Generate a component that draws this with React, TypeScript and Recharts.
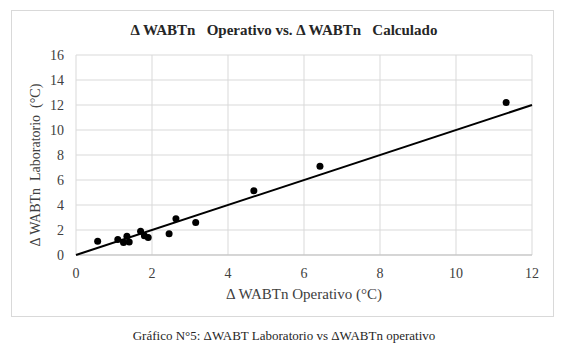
import { CartesianGrid, Scatter, ScatterChart, XAxis, YAxis } from "recharts"

// Measured points: ΔWABTn operativo (x) vs ΔWABTn laboratorio (y)
const operativo = [0.57, 1.1, 1.25, 1.34, 1.4, 1.7, 1.8, 1.9, 2.45, 2.63, 3.15, 4.68, 6.42, 11.32]
const laboratorio = [1.1, 1.25, 1.0, 1.5, 1.05, 1.9, 1.55, 1.4, 1.7, 2.9, 2.6, 5.15, 7.1, 12.2]

// Reference line y = x
const lineX = [0, 12]
const lineY = [0, 12]

const xTicks = [0, 2, 4, 6, 8, 10, 12]
const yTicks = [0, 2, 4, 6, 8, 10, 12, 14, 16]

const points = operativo.map((x, i) => ({ x, y: laboratorio[i] }))
const fitLine = lineX.map((x, i) => ({ x, y: lineY[i] }))

const serif = '"Liberation Serif", "DejaVu Serif", serif'
const textColor = "#404040"

const Dot = (props: any) => <circle cx={props.cx} cy={props.cy} r={3.5} fill="#000" />

export default function App() {
  return (
    <div style={{ position: "absolute", left: 0, top: 0, width: 568, height: 360, background: "#fff", fontFamily: serif }}>
      <div
        style={{
          position: "absolute",
          left: 11,
          top: 10,
          width: 543,
          height: 307,
          border: "1px solid #d9d9d9",
          boxSizing: "border-box",
        }}
      />
      <div
        style={{
          position: "absolute",
          left: 0,
          top: 21,
          width: 568,
          textAlign: "center",
          fontSize: 15,
          lineHeight: "18px",
          fontWeight: "bold",
          color: "#262626",
          whiteSpace: "pre",
        }}
      >
        {"Δ WABTn   Operativo vs. Δ WABTn   Calculado"}
      </div>
      <div style={{ position: "absolute", left: 0, top: 0 }}>
        <ScatterChart width={568} height={360} margin={{ top: 55, right: 36, bottom: 75, left: 46 }}>
          <CartesianGrid stroke="#d9d9d9" strokeWidth={1} />
          <XAxis
            type="number"
            dataKey="x"
            domain={[0, 12]}
            ticks={xTicks}
            tickLine={false}
            axisLine={{ stroke: "#bfbfbf" }}
            height={30}
            tick={{ fontSize: 14, fill: textColor, fontFamily: serif }}
            tickMargin={7}
          />
          <YAxis
            type="number"
            dataKey="y"
            domain={[0, 16]}
            ticks={yTicks}
            tickLine={false}
            axisLine={false}
            width={30}
            tickMargin={6}
            tick={{ fontSize: 14, fill: textColor, fontFamily: serif }}
          />
          <Scatter
            data={fitLine}
            line={{ stroke: "#000", strokeWidth: 2 }}
            shape={() => <g />}
            isAnimationActive={false}
          />
          <Scatter data={points} shape={Dot} isAnimationActive={false} />
        </ScatterChart>
      </div>
      <div
        style={{
          position: "absolute",
          left: 36,
          top: 165,
          transform: "translate(-50%, -50%) rotate(-90deg)",
          fontSize: 14,
          lineHeight: "16px",
          color: textColor,
          whiteSpace: "pre",
        }}
      >
        {"Δ WABTn  Laboratorio  (°C)"}
      </div>
      <div
        style={{
          position: "absolute",
          left: 76,
          top: 285,
          width: 456,
          textAlign: "center",
          fontSize: 15,
          lineHeight: "18px",
          color: textColor,
        }}
      >
        Δ WABTn Operativo (°C)
      </div>
      <div
        style={{
          position: "absolute",
          left: 0,
          top: 328,
          width: 568,
          textAlign: "center",
          fontSize: 13,
          lineHeight: "16px",
          color: "#262626",
        }}
      >
        Gráfico N°5: ΔWABT Laboratorio vs ΔWABTn operativo
      </div>
    </div>
  )
}
